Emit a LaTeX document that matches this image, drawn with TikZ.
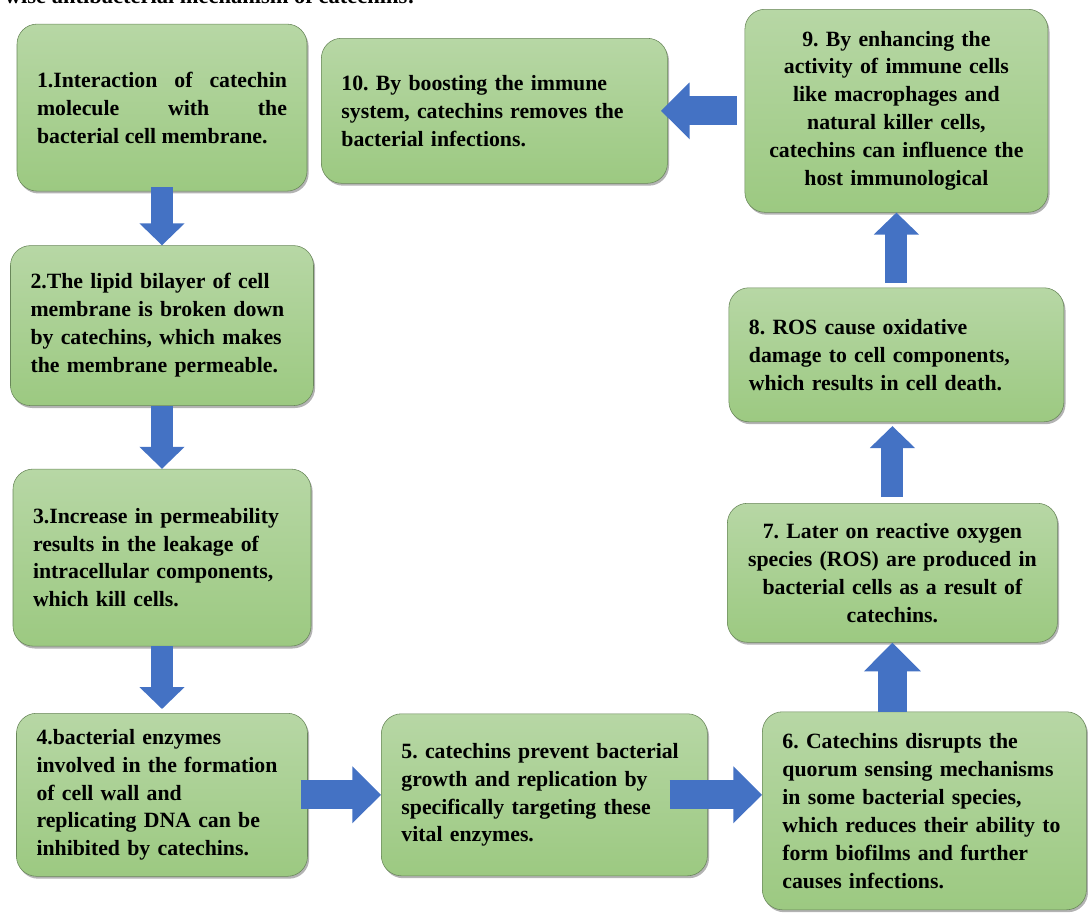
\documentclass[tikz,border=0pt]{standalone}
\usepackage{fontspec}
\setmainfont{Liberation Serif}
\usetikzlibrary{shapes,arrows.meta,positioning,shadows}

\definecolor{boxtop}{RGB}{183,215,165}
\definecolor{boxbottom}{RGB}{156,201,129}
\definecolor{boxedge}{RGB}{105,135,90}
\definecolor{arrowblue}{RGB}{68,114,196}

\begin{document}
\frenchspacing
\begin{tikzpicture}[
    node distance=5.6cm,
    stepbox/.style={rectangle, rounded corners=0.5cm, draw=boxedge, top color=boxtop, bottom color=boxbottom, inner xsep=0.5cm, align=left, font=\bfseries\fontsize{15.5}{19.9}\selectfont, drop shadow={shadow xshift=0.04cm, shadow yshift=-0.06cm, opacity=0.6}},
    arrow/.style={draw=arrowblue, line width=0.55cm, -{Triangle[width=1.1cm, length=0.55cm]}},
    bigarrow/.style={arrow, line width=0.72cm, -{Triangle[width=1.38cm, length=0.72cm]}}
]
\useasboundingbox (0,0) rectangle (27.2,-22.875);

% Title (cut off at the top)
\node[anchor=base west, font=\bfseries\fontsize{16}{19}\selectfont] (title) at (0,-0.1) {wise antibacterial mechanism of catechins:};

% Left column
\node[stepbox, align=justify, text width=6.25cm, minimum height=4.175cm] (b1) at (4.05,-2.69) {1.Interaction of catechin\linebreak molecule with the\linebreak bacterial cell membrane.};
\node[stepbox, text width=6.575cm, minimum height=4cm, below of=b1, yshift=0.15cm] (b2) {2.The lipid bilayer of cell\\ membrane is broken down\\ by catechins, which makes\\ the membrane permeable.};
\node[stepbox, text width=6.45cm, minimum height=4.425cm, below of=b2, yshift=-0.2cm] (b3) {3.Increase in permeability\\ results in the leakage of\\ intracellular components,\\ which kill cells.};
\node[stepbox, text width=6.275cm, minimum height=4.075cm, below of=b3, yshift=-0.33cm] (b4) {4.bacterial enzymes\\ involved in the formation\\ of cell wall and\\ replicating DNA can be\\ inhibited by catechins.};

% Bottom row
\node[stepbox, text width=7.15cm, minimum height=4.05cm, right of=b4, xshift=3.96cm] (b5) {5. catechins prevent bacterial\\ growth and replication by\\ specifically targeting these\\ vital enzymes.};
\node[stepbox, text width=7.1cm, minimum height=4.95cm, right of=b5, xshift=3.9cm, yshift=-0.4cm] (b6) {6. Catechins disrupts the\\ quorum sensing mechanisms\\ in some bacterial species,\\ which reduces their ability to\\ form biofilms and further\\ causes infections.};

% Right column
\node[stepbox, align=center, text width=7.25cm, minimum height=3.475cm, above of=b6, xshift=-0.8cm, yshift=0.35cm] (b7) {7. Later on reactive oxygen\\ species (ROS) are produced in\\ bacterial cells as a result of\\ catechins.};
\node[stepbox, text width=7.375cm, minimum height=3.35cm, above of=b7, xshift=0.1cm, yshift=-0.15cm] (b8) {8. ROS cause oxidative\\ damage to cell components,\\ which results in cell death.};
\node[stepbox, align=center, text width=6.575cm, minimum height=5.075cm, above of=b8, yshift=0.5cm] (b9) {9. By enhancing the\\ activity of immune cells\\ like macrophages and\\ natural killer cells,\\ catechins can influence the\\ host immunological};

% Top row
\node[stepbox, text width=7.65cm, minimum height=3.625cm, left of=b9, xshift=-4.45cm] (b10) {10. By boosting the immune\\ system, catechins removes the\\ bacterial infections.};

% Arrows
\draw[arrow, shorten <=-0.1cm] (b1.south) -- (b2.north);
\draw[arrow] (b2.south) -- (b3.north);
\draw[arrow, shorten >=0.1cm] (b3.south) -- (b4.north);
\draw[bigarrow, shorten <=-0.18cm] (b4) -- (b5);
\draw[bigarrow, shorten <=-0.95cm] (b5.east) -- (b5.east -| b6.west);
\draw[bigarrow] (b7.south |- b6.north) -- (b7.south);
\draw[arrow, shorten <=0.15cm, shorten >=0.1cm] (b7.north) -- (b7.north |- b8.south);
\draw[arrow, shorten <=0.12cm] (b8.north) -- (b8.north |- b9.south);
\draw[bigarrow, shorten <=0.2cm, shorten >=-0.17cm] (b9) -- (b10);

\end{tikzpicture}
\end{document}
